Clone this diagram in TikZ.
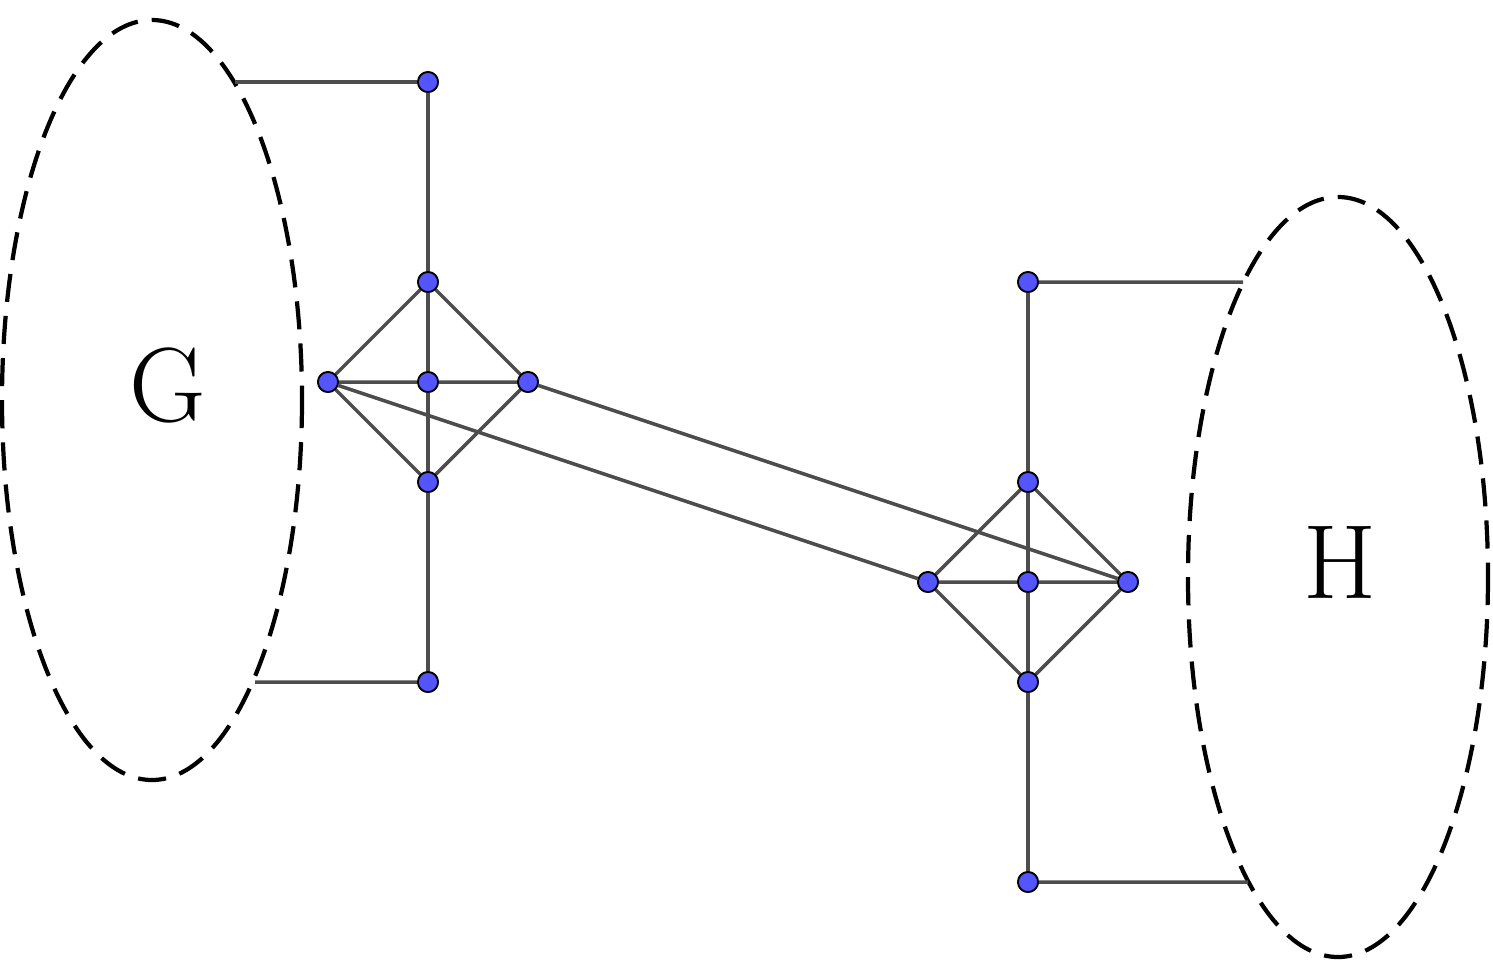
\documentclass[tikz,border=0pt]{standalone}
\usetikzlibrary{positioning}
\definecolor{vblue}{RGB}{85,85,255}
\definecolor{egray}{RGB}{77,77,77}
\tikzset{vtx/.style={circle,draw=black,fill=vblue,inner sep=0pt,minimum size=0.2cm,line width=0.5pt},
  edge/.style={draw=egray,line width=1pt},
  blob/.style={draw=black,dashed,line width=1.2pt,dash pattern=on 8pt off 4pt}}
\begin{document}
\begin{tikzpicture}[x=0.01cm,y=-0.01cm]
  \useasboundingbox (0,0) rectangle (1493,960);
  % the two dashed blobs
  \draw[blob] (152,400) ellipse [x radius=150,y radius=380];
  \draw[blob] (1338,577) ellipse [x radius=150,y radius=380];
  \node at (168,385) {\fontsize{30}{30}\selectfont G};
  \node at (1340,562) {\fontsize{30}{30}\selectfont H};
  \coordinate (ga) at (235,82);
  \coordinate (gb) at (255,682);
  \coordinate (ha) at (1243,282);
  \coordinate (hb) at (1248,882);

  % left gadget
  \node[vtx] (l1) at (428,82) {};
  \node[vtx] (l2) at (428,282) {};
  \node[vtx] (l3) at (428,382) {};
  \node[vtx] (l4) at (428,482) {};
  \node[vtx] (l5) at (428,682) {};
  \node[vtx] (lw) at (328,382) {};
  \node[vtx] (le) at (528,382) {};
  % right gadget
  \node[vtx] (r1) at (1028,282) {};
  \node[vtx] (r2) at (1028,482) {};
  \node[vtx] (r3) at (1028,582) {};
  \node[vtx] (r4) at (1028,682) {};
  \node[vtx] (r5) at (1028,882) {};
  \node[vtx] (rw) at (928,582) {};
  \node[vtx] (re) at (1128,582) {};

  \begin{scope}[on background layer/.style={}]
  \path[edge] (ga) -- (l1) (gb) -- (l5)
    (l1) -- (l2) -- (l3) -- (l4) -- (l5)
    (lw) -- (l3) -- (le)
    (lw) -- (l2) -- (le) -- (l4) -- (lw)
    (ha) -- (r1) (hb) -- (r5)
    (r1) -- (r2) -- (r3) -- (r4) -- (r5)
    (rw) -- (r3) -- (re)
    (rw) -- (r2) -- (re) -- (r4) -- (rw)
    (lw) -- (rw) (le) -- (re);
  \end{scope}
  % redraw vertices on top
  \foreach \v in {l1,l2,l3,l4,l5,lw,le,r1,r2,r3,r4,r5,rw,re}
    \node[vtx] at (\v) {};
\end{tikzpicture}
\end{document}
